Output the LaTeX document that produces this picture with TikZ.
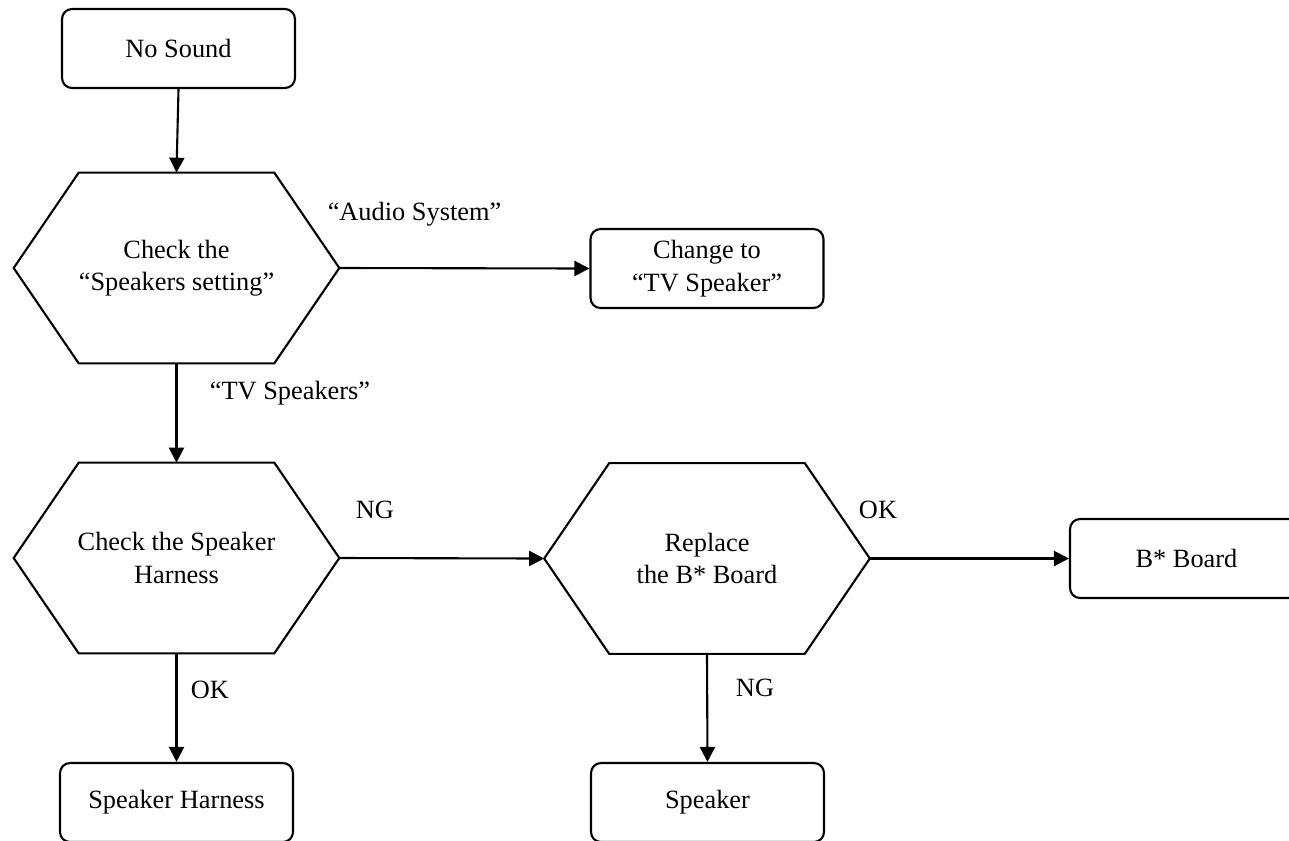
\documentclass[tikz,border=0pt]{standalone}
\usepackage{fontspec}
\setmainfont{Liberation Serif}
\usetikzlibrary{arrows.meta,calc}

\begin{document}
\begin{tikzpicture}[x=0.02cm,y=-0.02cm,
    font=\fontsize{15}{18.5}\selectfont,
    box/.style={draw,line width=1.2pt,rounded corners=0.2cm,minimum width=4.66cm,
      minimum height=1.58cm,align=center,inner sep=0pt},
    hexa/.style={minimum width=6.5cm,minimum height=3.8cm,align=center,inner sep=0pt},
    link/.style={line width=1.2pt,-{Triangle[length=0.3cm,width=0.3cm]}},
    lbl/.style={inner sep=0pt}]
  \useasboundingbox (0,0) rectangle (1289,840);
  \clip (0,0) rectangle (1289,840);

  % boxes
  \node[box] (nosound) at (178.5,48.5) {No Sound};
  \node[box] (change) at (707,268.5) {Change to\\“TV Speaker”};
  \node[box] (board) at (1186.5,558.5) {B* Board};
  \node[box] (spkharn) at (176.5,802.5) {Speaker Harness};
  \node[box] (spk) at (707.5,802.5) {Speaker};

  % checks
  \node[hexa] (chk) at (176.5,268) {Check the\\“Speakers setting”};
  \node[hexa] (harn) at (176.5,558) {Check the Speaker\\Harness};
  \node[hexa] (repl) at (707,558.5) {Replace\\the B* Board};
  \foreach \n in {chk,harn,repl}
    \draw[line width=1.2pt]
      ($(\n.north west)+(65,0)$) -- ($(\n.north east)+(-65,0)$) -- (\n.east)
      -- ($(\n.south east)+(-65,0)$) -- ($(\n.south west)+(65,0)$) -- (\n.west) -- cycle;

  % connectors
  \draw[link] (nosound.south) -- (chk.north);
  \draw[link] (chk.east) -- (change.west);
  \draw[link] (chk.south) -- (harn.north);
  \draw[link] (harn.east) -- (repl.west);
  \draw[link] (harn.south) -- (spkharn.north);
  \draw[link] (repl.east) -- (board.west);
  \draw[link] (repl.south) -- (spk.north);

  % answers
  \node[lbl] (audio) at (414.5,214) {“Audio System”};
  \node[lbl] (tvspk) at (290,393) {“TV Speakers”};
  \node[lbl] (ng1) at (375,510) {NG};
  \node[lbl] (ok1) at (210,690) {OK};
  \node[lbl] (ok2) at (878,510) {OK};
  \node[lbl] (ng2) at (755,688) {NG};
\end{tikzpicture}
\end{document}
